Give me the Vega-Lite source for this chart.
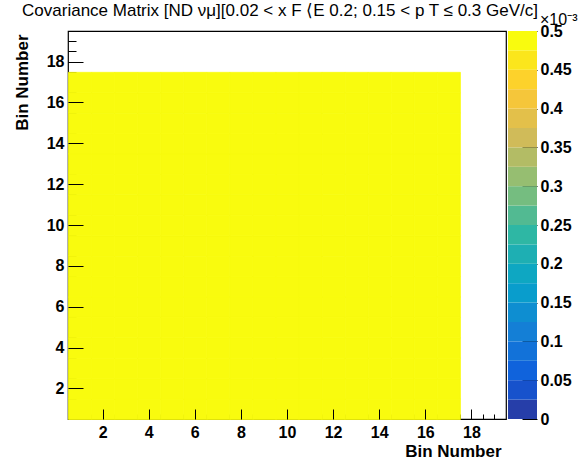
{
  "$schema": "https://vega.github.io/schema/vega-lite/v6.json",
  "background": "white",
  "padding": {"left": 12, "top": 1, "right": 0, "bottom": 0},
  "bounds": "flush",
  "spacing": 2,
  "config": {
    "font": "Liberation Sans",
    "view": {"stroke": "black", "strokeWidth": 1.2},
    "axis": {"grid": false, "domain": false, "tickColor": "black", "tickWidth": 1, "labelColor": "black", "titleColor": "black", "labelFont": "Liberation Sans", "titleFont": "Liberation Sans", "labelFlush": false, "labelOverlap": false, "labelBound": false}
  },
  "datasets": {
    "cells": [
      {"x":0.5,"y":0.5,"v":0.5},{"x":1.5,"y":0.5,"v":0.5},{"x":2.5,"y":0.5,"v":0.5},{"x":3.5,"y":0.5,"v":0.5},{"x":4.5,"y":0.5,"v":0.5},{"x":5.5,"y":0.5,"v":0.5},{"x":6.5,"y":0.5,"v":0.5},{"x":7.5,"y":0.5,"v":0.5},{"x":8.5,"y":0.5,"v":0.5},{"x":9.5,"y":0.5,"v":0.5},{"x":10.5,"y":0.5,"v":0.5},{"x":11.5,"y":0.5,"v":0.5},{"x":12.5,"y":0.5,"v":0.5},{"x":13.5,"y":0.5,"v":0.5},{"x":14.5,"y":0.5,"v":0.5},{"x":15.5,"y":0.5,"v":0.5},{"x":16.5,"y":0.5,"v":0.5},
      {"x":0.5,"y":1.5,"v":0.5},{"x":1.5,"y":1.5,"v":0.5},{"x":2.5,"y":1.5,"v":0.5},{"x":3.5,"y":1.5,"v":0.5},{"x":4.5,"y":1.5,"v":0.5},{"x":5.5,"y":1.5,"v":0.5},{"x":6.5,"y":1.5,"v":0.5},{"x":7.5,"y":1.5,"v":0.5},{"x":8.5,"y":1.5,"v":0.5},{"x":9.5,"y":1.5,"v":0.5},{"x":10.5,"y":1.5,"v":0.5},{"x":11.5,"y":1.5,"v":0.5},{"x":12.5,"y":1.5,"v":0.5},{"x":13.5,"y":1.5,"v":0.5},{"x":14.5,"y":1.5,"v":0.5},{"x":15.5,"y":1.5,"v":0.5},{"x":16.5,"y":1.5,"v":0.5},
      {"x":0.5,"y":2.5,"v":0.5},{"x":1.5,"y":2.5,"v":0.5},{"x":2.5,"y":2.5,"v":0.5},{"x":3.5,"y":2.5,"v":0.5},{"x":4.5,"y":2.5,"v":0.5},{"x":5.5,"y":2.5,"v":0.5},{"x":6.5,"y":2.5,"v":0.5},{"x":7.5,"y":2.5,"v":0.5},{"x":8.5,"y":2.5,"v":0.5},{"x":9.5,"y":2.5,"v":0.5},{"x":10.5,"y":2.5,"v":0.5},{"x":11.5,"y":2.5,"v":0.5},{"x":12.5,"y":2.5,"v":0.5},{"x":13.5,"y":2.5,"v":0.5},{"x":14.5,"y":2.5,"v":0.5},{"x":15.5,"y":2.5,"v":0.5},{"x":16.5,"y":2.5,"v":0.5},
      {"x":0.5,"y":3.5,"v":0.5},{"x":1.5,"y":3.5,"v":0.5},{"x":2.5,"y":3.5,"v":0.5},{"x":3.5,"y":3.5,"v":0.5},{"x":4.5,"y":3.5,"v":0.5},{"x":5.5,"y":3.5,"v":0.5},{"x":6.5,"y":3.5,"v":0.5},{"x":7.5,"y":3.5,"v":0.5},{"x":8.5,"y":3.5,"v":0.5},{"x":9.5,"y":3.5,"v":0.5},{"x":10.5,"y":3.5,"v":0.5},{"x":11.5,"y":3.5,"v":0.5},{"x":12.5,"y":3.5,"v":0.5},{"x":13.5,"y":3.5,"v":0.5},{"x":14.5,"y":3.5,"v":0.5},{"x":15.5,"y":3.5,"v":0.5},{"x":16.5,"y":3.5,"v":0.5},
      {"x":0.5,"y":4.5,"v":0.5},{"x":1.5,"y":4.5,"v":0.5},{"x":2.5,"y":4.5,"v":0.5},{"x":3.5,"y":4.5,"v":0.5},{"x":4.5,"y":4.5,"v":0.5},{"x":5.5,"y":4.5,"v":0.5},{"x":6.5,"y":4.5,"v":0.5},{"x":7.5,"y":4.5,"v":0.5},{"x":8.5,"y":4.5,"v":0.5},{"x":9.5,"y":4.5,"v":0.5},{"x":10.5,"y":4.5,"v":0.5},{"x":11.5,"y":4.5,"v":0.5},{"x":12.5,"y":4.5,"v":0.5},{"x":13.5,"y":4.5,"v":0.5},{"x":14.5,"y":4.5,"v":0.5},{"x":15.5,"y":4.5,"v":0.5},{"x":16.5,"y":4.5,"v":0.5},
      {"x":0.5,"y":5.5,"v":0.5},{"x":1.5,"y":5.5,"v":0.5},{"x":2.5,"y":5.5,"v":0.5},{"x":3.5,"y":5.5,"v":0.5},{"x":4.5,"y":5.5,"v":0.5},{"x":5.5,"y":5.5,"v":0.5},{"x":6.5,"y":5.5,"v":0.5},{"x":7.5,"y":5.5,"v":0.5},{"x":8.5,"y":5.5,"v":0.5},{"x":9.5,"y":5.5,"v":0.5},{"x":10.5,"y":5.5,"v":0.5},{"x":11.5,"y":5.5,"v":0.5},{"x":12.5,"y":5.5,"v":0.5},{"x":13.5,"y":5.5,"v":0.5},{"x":14.5,"y":5.5,"v":0.5},{"x":15.5,"y":5.5,"v":0.5},{"x":16.5,"y":5.5,"v":0.5},
      {"x":0.5,"y":6.5,"v":0.5},{"x":1.5,"y":6.5,"v":0.5},{"x":2.5,"y":6.5,"v":0.5},{"x":3.5,"y":6.5,"v":0.5},{"x":4.5,"y":6.5,"v":0.5},{"x":5.5,"y":6.5,"v":0.5},{"x":6.5,"y":6.5,"v":0.5},{"x":7.5,"y":6.5,"v":0.5},{"x":8.5,"y":6.5,"v":0.5},{"x":9.5,"y":6.5,"v":0.5},{"x":10.5,"y":6.5,"v":0.5},{"x":11.5,"y":6.5,"v":0.5},{"x":12.5,"y":6.5,"v":0.5},{"x":13.5,"y":6.5,"v":0.5},{"x":14.5,"y":6.5,"v":0.5},{"x":15.5,"y":6.5,"v":0.5},{"x":16.5,"y":6.5,"v":0.5},
      {"x":0.5,"y":7.5,"v":0.5},{"x":1.5,"y":7.5,"v":0.5},{"x":2.5,"y":7.5,"v":0.5},{"x":3.5,"y":7.5,"v":0.5},{"x":4.5,"y":7.5,"v":0.5},{"x":5.5,"y":7.5,"v":0.5},{"x":6.5,"y":7.5,"v":0.5},{"x":7.5,"y":7.5,"v":0.5},{"x":8.5,"y":7.5,"v":0.5},{"x":9.5,"y":7.5,"v":0.5},{"x":10.5,"y":7.5,"v":0.5},{"x":11.5,"y":7.5,"v":0.5},{"x":12.5,"y":7.5,"v":0.5},{"x":13.5,"y":7.5,"v":0.5},{"x":14.5,"y":7.5,"v":0.5},{"x":15.5,"y":7.5,"v":0.5},{"x":16.5,"y":7.5,"v":0.5},
      {"x":0.5,"y":8.5,"v":0.5},{"x":1.5,"y":8.5,"v":0.5},{"x":2.5,"y":8.5,"v":0.5},{"x":3.5,"y":8.5,"v":0.5},{"x":4.5,"y":8.5,"v":0.5},{"x":5.5,"y":8.5,"v":0.5},{"x":6.5,"y":8.5,"v":0.5},{"x":7.5,"y":8.5,"v":0.5},{"x":8.5,"y":8.5,"v":0.5},{"x":9.5,"y":8.5,"v":0.5},{"x":10.5,"y":8.5,"v":0.5},{"x":11.5,"y":8.5,"v":0.5},{"x":12.5,"y":8.5,"v":0.5},{"x":13.5,"y":8.5,"v":0.5},{"x":14.5,"y":8.5,"v":0.5},{"x":15.5,"y":8.5,"v":0.5},{"x":16.5,"y":8.5,"v":0.5},
      {"x":0.5,"y":9.5,"v":0.5},{"x":1.5,"y":9.5,"v":0.5},{"x":2.5,"y":9.5,"v":0.5},{"x":3.5,"y":9.5,"v":0.5},{"x":4.5,"y":9.5,"v":0.5},{"x":5.5,"y":9.5,"v":0.5},{"x":6.5,"y":9.5,"v":0.5},{"x":7.5,"y":9.5,"v":0.5},{"x":8.5,"y":9.5,"v":0.5},{"x":9.5,"y":9.5,"v":0.5},{"x":10.5,"y":9.5,"v":0.5},{"x":11.5,"y":9.5,"v":0.5},{"x":12.5,"y":9.5,"v":0.5},{"x":13.5,"y":9.5,"v":0.5},{"x":14.5,"y":9.5,"v":0.5},{"x":15.5,"y":9.5,"v":0.5},{"x":16.5,"y":9.5,"v":0.5},
      {"x":0.5,"y":10.5,"v":0.5},{"x":1.5,"y":10.5,"v":0.5},{"x":2.5,"y":10.5,"v":0.5},{"x":3.5,"y":10.5,"v":0.5},{"x":4.5,"y":10.5,"v":0.5},{"x":5.5,"y":10.5,"v":0.5},{"x":6.5,"y":10.5,"v":0.5},{"x":7.5,"y":10.5,"v":0.5},{"x":8.5,"y":10.5,"v":0.5},{"x":9.5,"y":10.5,"v":0.5},{"x":10.5,"y":10.5,"v":0.5},{"x":11.5,"y":10.5,"v":0.5},{"x":12.5,"y":10.5,"v":0.5},{"x":13.5,"y":10.5,"v":0.5},{"x":14.5,"y":10.5,"v":0.5},{"x":15.5,"y":10.5,"v":0.5},{"x":16.5,"y":10.5,"v":0.5},
      {"x":0.5,"y":11.5,"v":0.5},{"x":1.5,"y":11.5,"v":0.5},{"x":2.5,"y":11.5,"v":0.5},{"x":3.5,"y":11.5,"v":0.5},{"x":4.5,"y":11.5,"v":0.5},{"x":5.5,"y":11.5,"v":0.5},{"x":6.5,"y":11.5,"v":0.5},{"x":7.5,"y":11.5,"v":0.5},{"x":8.5,"y":11.5,"v":0.5},{"x":9.5,"y":11.5,"v":0.5},{"x":10.5,"y":11.5,"v":0.5},{"x":11.5,"y":11.5,"v":0.5},{"x":12.5,"y":11.5,"v":0.5},{"x":13.5,"y":11.5,"v":0.5},{"x":14.5,"y":11.5,"v":0.5},{"x":15.5,"y":11.5,"v":0.5},{"x":16.5,"y":11.5,"v":0.5},
      {"x":0.5,"y":12.5,"v":0.5},{"x":1.5,"y":12.5,"v":0.5},{"x":2.5,"y":12.5,"v":0.5},{"x":3.5,"y":12.5,"v":0.5},{"x":4.5,"y":12.5,"v":0.5},{"x":5.5,"y":12.5,"v":0.5},{"x":6.5,"y":12.5,"v":0.5},{"x":7.5,"y":12.5,"v":0.5},{"x":8.5,"y":12.5,"v":0.5},{"x":9.5,"y":12.5,"v":0.5},{"x":10.5,"y":12.5,"v":0.5},{"x":11.5,"y":12.5,"v":0.5},{"x":12.5,"y":12.5,"v":0.5},{"x":13.5,"y":12.5,"v":0.5},{"x":14.5,"y":12.5,"v":0.5},{"x":15.5,"y":12.5,"v":0.5},{"x":16.5,"y":12.5,"v":0.5},
      {"x":0.5,"y":13.5,"v":0.5},{"x":1.5,"y":13.5,"v":0.5},{"x":2.5,"y":13.5,"v":0.5},{"x":3.5,"y":13.5,"v":0.5},{"x":4.5,"y":13.5,"v":0.5},{"x":5.5,"y":13.5,"v":0.5},{"x":6.5,"y":13.5,"v":0.5},{"x":7.5,"y":13.5,"v":0.5},{"x":8.5,"y":13.5,"v":0.5},{"x":9.5,"y":13.5,"v":0.5},{"x":10.5,"y":13.5,"v":0.5},{"x":11.5,"y":13.5,"v":0.5},{"x":12.5,"y":13.5,"v":0.5},{"x":13.5,"y":13.5,"v":0.5},{"x":14.5,"y":13.5,"v":0.5},{"x":15.5,"y":13.5,"v":0.5},{"x":16.5,"y":13.5,"v":0.5},
      {"x":0.5,"y":14.5,"v":0.5},{"x":1.5,"y":14.5,"v":0.5},{"x":2.5,"y":14.5,"v":0.5},{"x":3.5,"y":14.5,"v":0.5},{"x":4.5,"y":14.5,"v":0.5},{"x":5.5,"y":14.5,"v":0.5},{"x":6.5,"y":14.5,"v":0.5},{"x":7.5,"y":14.5,"v":0.5},{"x":8.5,"y":14.5,"v":0.5},{"x":9.5,"y":14.5,"v":0.5},{"x":10.5,"y":14.5,"v":0.5},{"x":11.5,"y":14.5,"v":0.5},{"x":12.5,"y":14.5,"v":0.5},{"x":13.5,"y":14.5,"v":0.5},{"x":14.5,"y":14.5,"v":0.5},{"x":15.5,"y":14.5,"v":0.5},{"x":16.5,"y":14.5,"v":0.5},
      {"x":0.5,"y":15.5,"v":0.5},{"x":1.5,"y":15.5,"v":0.5},{"x":2.5,"y":15.5,"v":0.5},{"x":3.5,"y":15.5,"v":0.5},{"x":4.5,"y":15.5,"v":0.5},{"x":5.5,"y":15.5,"v":0.5},{"x":6.5,"y":15.5,"v":0.5},{"x":7.5,"y":15.5,"v":0.5},{"x":8.5,"y":15.5,"v":0.5},{"x":9.5,"y":15.5,"v":0.5},{"x":10.5,"y":15.5,"v":0.5},{"x":11.5,"y":15.5,"v":0.5},{"x":12.5,"y":15.5,"v":0.5},{"x":13.5,"y":15.5,"v":0.5},{"x":14.5,"y":15.5,"v":0.5},{"x":15.5,"y":15.5,"v":0.5},{"x":16.5,"y":15.5,"v":0.5},
      {"x":0.5,"y":16.5,"v":0.5},{"x":1.5,"y":16.5,"v":0.5},{"x":2.5,"y":16.5,"v":0.5},{"x":3.5,"y":16.5,"v":0.5},{"x":4.5,"y":16.5,"v":0.5},{"x":5.5,"y":16.5,"v":0.5},{"x":6.5,"y":16.5,"v":0.5},{"x":7.5,"y":16.5,"v":0.5},{"x":8.5,"y":16.5,"v":0.5},{"x":9.5,"y":16.5,"v":0.5},{"x":10.5,"y":16.5,"v":0.5},{"x":11.5,"y":16.5,"v":0.5},{"x":12.5,"y":16.5,"v":0.5},{"x":13.5,"y":16.5,"v":0.5},{"x":14.5,"y":16.5,"v":0.5},{"x":15.5,"y":16.5,"v":0.5},{"x":16.5,"y":16.5,"v":0.5}
    ],
    "bands": [
      {"lo":0,"hi":0.025},{"lo":0.025,"hi":0.05},{"lo":0.05,"hi":0.075},{"lo":0.075,"hi":0.1},{"lo":0.1,"hi":0.125},
      {"lo":0.125,"hi":0.15},{"lo":0.15,"hi":0.175},{"lo":0.175,"hi":0.2},{"lo":0.2,"hi":0.225},{"lo":0.225,"hi":0.25},
      {"lo":0.25,"hi":0.275},{"lo":0.275,"hi":0.3},{"lo":0.3,"hi":0.325},{"lo":0.325,"hi":0.35},{"lo":0.35,"hi":0.375},
      {"lo":0.375,"hi":0.4},{"lo":0.4,"hi":0.425},{"lo":0.425,"hi":0.45},{"lo":0.45,"hi":0.475},{"lo":0.475,"hi":0.5}
    ]
  },
  "hconcat": [
    {
      "width": 438,
      "height": 388,
      "title": {"text": "Covariance Matrix [ND νμ][0.02 < x F ⟨E 0.2; 0.15 < p T ≤ 0.3 GeV/c]", "fontSize": 17, "fontWeight": "normal", "font": "Liberation Sans", "color": "black", "anchor": "middle", "baseline": "alphabetic", "offset": -2, "dx": -7},
      "data": {"name": "cells"},
      "layer": [
        {
          "mark": {"type": "rect", "strokeWidth": 0.8},
          "encoding": {
            "x": {"field": "x", "type": "quantitative", "bin": {"binned": true, "step": 1},
                  "scale": {"domain": [0.5, 19.5], "nice": false, "zero": false},
                  "axis": {"orient": "bottom", "values": [2,4,6,8,10,12,14,16,18], "tickSize": -10, "labelPadding": 15, "labelFontSize": 16, "labelFontWeight": "bold", "format": "d",
                           "title": "Bin Number", "titleFontSize": 17, "titleFontWeight": "bold", "titleAnchor": "end", "titleAlign": "right", "titleX": 433, "titleY": 37, "titleBaseline": "alphabetic"}},
            "y": {"field": "y", "type": "quantitative", "bin": {"binned": true, "step": 1},
                  "scale": {"domain": [0.5, 19.5], "nice": false, "zero": false},
                  "axis": {"orient": "left", "values": [2,4,6,8,10,12,14,16,18], "tickSize": -15, "labelPadding": 19, "labelFontSize": 16, "labelFontWeight": "bold", "format": "d",
                           "title": "Bin Number", "titleFontSize": 17, "titleFontWeight": "bold", "titleAnchor": "end", "titleAngle": -90, "titleAlign": "right", "titleX": -41, "titleY": 3, "titleBaseline": "alphabetic"}},
            "color": {"field": "v", "type": "quantitative", "legend": null,
                      "scale": {"type": "threshold",
                                "domain": [0.025,0.05,0.075,0.1,0.125,0.15,0.175,0.2,0.225,0.25,0.275,0.3,0.325,0.35,0.375,0.4,0.425,0.45,0.475],
                                "range": ["#263EA9","#1752CC","#1063DC","#1272D9","#147FD6","#0E8ED1","#099DCC","#0EA7C2","#1EAFB3","#2EB7A4","#52BA92","#75BD80","#96BE71","#B3BC65","#D0BB59","#E3C04A","#F5C63A","#FDD22B","#FBE61C","#F9FB0E"]}},
            "stroke": {"field": "v", "type": "quantitative", "legend": null,
                      "scale": {"type": "threshold",
                                "domain": [0.025,0.05,0.075,0.1,0.125,0.15,0.175,0.2,0.225,0.25,0.275,0.3,0.325,0.35,0.375,0.4,0.425,0.45,0.475],
                                "range": ["#263EA9","#1752CC","#1063DC","#1272D9","#147FD6","#0E8ED1","#099DCC","#0EA7C2","#1EAFB3","#2EB7A4","#52BA92","#75BD80","#96BE71","#B3BC65","#D0BB59","#E3C04A","#F5C63A","#FDD22B","#FBE61C","#F9FB0E"]}}
          }
        },
        {
          "mark": {"type": "point", "opacity": 0},
          "encoding": {
            "x": {"field": "x", "type": "quantitative", "scale": {"domain": [0.5, 19.5], "nice": false, "zero": false},
                  "axis": {"orient": "bottom", "values": [1,1.5,2,2.5,3,3.5,4,4.5,5,5.5,6,6.5,7,7.5,8,8.5,9,9.5,10,10.5,11,11.5,12,12.5,13,13.5,14,14.5,15,15.5,16,16.5,17,17.5,18,18.5,19], "tickSize": -5, "labels": false, "title": null}},
            "y": {"field": "y", "type": "quantitative", "scale": {"domain": [0.5, 19.5], "nice": false, "zero": false},
                  "axis": {"orient": "left", "values": [1,1.5,2,2.5,3,3.5,4,4.5,5,5.5,6,6.5,7,7.5,8,8.5,9,9.5,10,10.5,11,11.5,12,12.5,13,13.5,14,14.5,15,15.5,16,16.5,17,17.5,18,18.5,19], "tickSize": -8, "labels": false, "title": null}}
          }
        }
      ],
      "resolve": {"scale": {"x": "independent", "y": "independent"}, "axis": {"x": "independent", "y": "independent"}}
    },
    {
      "width": 29,
      "height": 388,
      "view": {"stroke": null},
      "title": {"text": "×10⁻³", "fontSize": 16, "fontWeight": "normal", "font": "Liberation Sans", "color": "black", "anchor": "start", "dx": 32, "baseline": "alphabetic", "offset": -18},
      "data": {"name": "bands"},
      "mark": {"type": "rect"},
      "encoding": {
        "x": {"value": 0},
        "x2": {"value": "width"},
        "y": {"field": "lo", "type": "quantitative", "scale": {"domain": [0, 0.5], "nice": false, "zero": false},
              "axis": {"orient": "right", "values": [0,0.05,0.1,0.15,0.2,0.25,0.3,0.35,0.4,0.45,0.5], "format": ".2~f", "tickSize": -15, "labelPadding": 18, "labelFontSize": 16, "labelFontWeight": "bold", "title": null}},
        "y2": {"field": "hi"},
        "color": {"field": "lo", "type": "quantitative", "legend": null,
                  "scale": {"type": "threshold",
                            "domain": [0.025,0.05,0.075,0.1,0.125,0.15,0.175,0.2,0.225,0.25,0.275,0.3,0.325,0.35,0.375,0.4,0.425,0.45,0.475],
                            "range": ["#263EA9","#1752CC","#1063DC","#1272D9","#147FD6","#0E8ED1","#099DCC","#0EA7C2","#1EAFB3","#2EB7A4","#52BA92","#75BD80","#96BE71","#B3BC65","#D0BB59","#E3C04A","#F5C63A","#FDD22B","#FBE61C","#F9FB0E"]}}
      }
    }
  ]
}
